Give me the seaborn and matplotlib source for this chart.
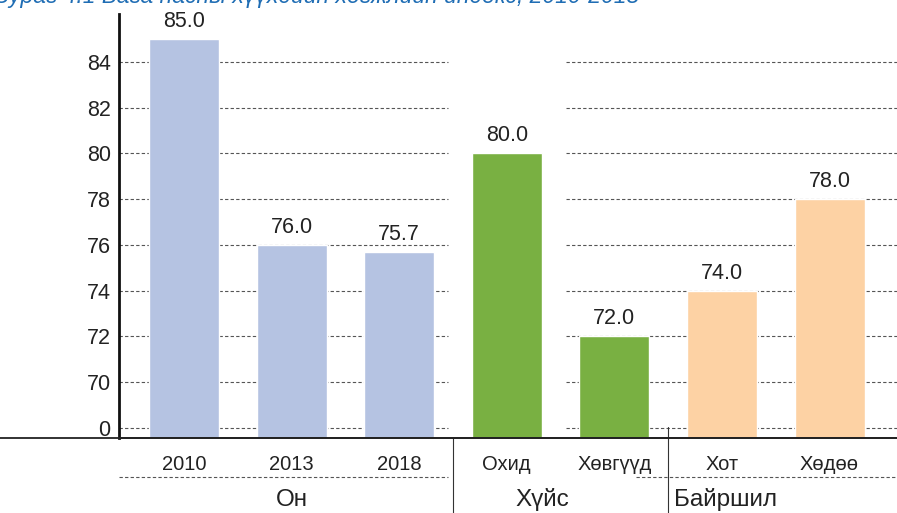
import pandas as pd
import matplotlib
matplotlib.use('Agg')
import matplotlib.pyplot as plt
from matplotlib.lines import Line2D
import seaborn as sns

# data
labels = ['2010', '2013', '2018', 'Охид', 'Хөвгүүд', 'Хот', 'Хөдөө']
values = [85.0, 76.0, 75.7, 80.0, 72.0, 74.0, 78.0]
groups = ['Он', 'Он', 'Он', 'Хүйс', 'Хүйс', 'Байршил', 'Байршил']
group_names = ['Он', 'Хүйс', 'Байршил']
group_colors = ['#B5C3E2', '#79B042', '#FDD2A4']
# broken axis: the lowest tick is printed as 0
tick_values = [68, 70, 72, 74, 76, 78, 80, 82, 84]
tick_labels = ['0', '70', '72', '74', '76', '78', '80', '82', '84']
title = 'Зураг 4.1 Бага насны хүүхдийн хөгжлийн индекс, 2010-2018'

df = pd.DataFrame({'label': labels, 'value': values, 'group': groups})

sns.set_theme(style='white')
plt.rcParams['font.family'] = ['Liberation Sans Narrow', 'Liberation Sans', 'DejaVu Sans']

fig = plt.figure(figsize=(8.97, 5.13), dpi=100)
ax = fig.add_axes([0.1327, 0.1462, 0.8673, 0.8265])

sns.barplot(data=df, x='label', y='value', hue='group', order=labels,
            hue_order=group_names, palette=dict(zip(group_names, group_colors)),
            dodge=False, width=0.65, legend=False, saturation=1, ax=ax)

ax.set_xlim(-0.604, 6.627)
ax.set_ylim(67.55, 86.1)
ax.set_yticks(tick_values)
ax.set_yticklabels(tick_labels, fontsize=15.5, color='#222')
ax.tick_params(axis='y', length=0, pad=6)
ax.tick_params(axis='x', length=0, pad=12, labelsize=14.5, labelcolor='#222')
ax.set_xlabel('')
ax.set_ylabel('')

# dashed grid, left out behind the Хүйс group
ls = (0, (3, 2))
ax.hlines(tick_values, -0.604, 2.45, colors='#555', linestyles=ls, lw=0.8, zorder=0)
ax.hlines(tick_values, 3.55, 6.627, colors='#555', linestyles=ls, lw=0.8, zorder=0)

for c in ax.containers:
    ax.bar_label(c, fmt='%.1f', padding=5, fontsize=15.5, color='#222')

for s in ['top', 'right']:
    ax.spines[s].set_visible(False)
ax.spines['left'].set_color('#111')
ax.spines['left'].set_linewidth(2)
ax.spines['bottom'].set_color('#222')
ax.spines['bottom'].set_linewidth(1.3)

# bottom line runs across the whole figure
fig.add_artist(Line2D([0, 1], [0.1462, 0.1462], color='#222', lw=1.3))

# group separators and group labels under the tick labels
trans = ax.get_xaxis_transform()
ax.plot([2.5, 2.5], [0.0, -0.25], color='#333', lw=0.8, transform=trans, clip_on=False)
ax.plot([4.5, 4.5], [0.026, -0.25], color='#333', lw=0.8, transform=trans, clip_on=False)
ax.plot([-0.604, 2.45], [-0.092, -0.092], color='#555', ls=ls, lw=0.8,
        transform=trans, clip_on=False)
ax.plot([4.2, 6.627], [-0.092, -0.092], color='#555', ls=ls, lw=0.8,
        transform=trans, clip_on=False)
ax.text(1.0, -0.146, 'Он', transform=trans, ha='center', va='center', fontsize=17.5, color='#222')
ax.text(3.33, -0.146, 'Хүйс', transform=trans, ha='center', va='center', fontsize=17.5, color='#222')
ax.text(4.55, -0.146, 'Байршил', transform=trans, ha='left', va='center', fontsize=17.5, color='#222')

# title is cut off at the top edge in the reference
fig.text(-0.006, 1 - 3 / 513, title, ha='left', va='baseline', fontsize=16.5,
         style='italic', color='#1F6DB4')

fig.savefig('out.png', dpi=100)
plt.close(fig)
